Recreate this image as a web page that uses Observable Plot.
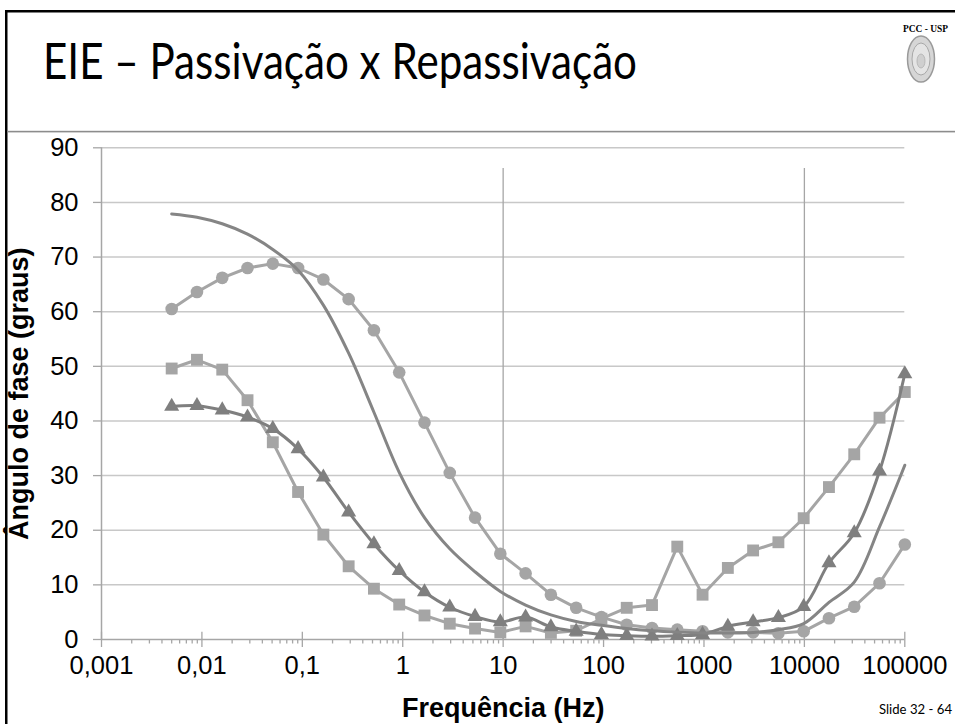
<!DOCTYPE html>
<html><head><meta charset="utf-8">
<script src="https://cdn.jsdelivr.net/npm/d3@7"></script>
<script src="https://cdn.jsdelivr.net/npm/@observablehq/plot@0.6"></script>
<style>
html,body{margin:0;padding:0;background:#fff;}
#page{position:relative;width:955px;height:724px;overflow:hidden;background:#fff;}
#chart{position:absolute;left:0;top:132px;}
#deco{position:absolute;left:0;top:0;}
</style></head><body>
<div id="page">
<div id="chart"></div>
<svg id="deco" width="955" height="724">
  <rect x="5" y="10" width="950" height="2.5" fill="#000"/>
  <rect x="5" y="10" width="2.5" height="714" fill="#000"/>
  <rect x="7" y="130.8" width="948" height="1.6" fill="#8c8c8c"/>
  <text x="43" y="79" font-family="Lato, 'DejaVu Sans', sans-serif" font-weight="400" font-size="50" textLength="594" lengthAdjust="spacingAndGlyphs" fill="#000">EIE – Passivação x Repassivação</text>
  <text x="903" y="32" font-family="'Liberation Serif', serif" font-weight="bold" font-size="10.5" textLength="45" lengthAdjust="spacingAndGlyphs" fill="#000">PCC - USP</text>
  <ellipse cx="921" cy="59" rx="13.5" ry="23" fill="#d6d6d6" stroke="#9a9a9a" stroke-width="1.5"/>
  <ellipse cx="921" cy="59" rx="9" ry="16" fill="#e4e4e4" stroke="#a8a8a8" stroke-width="1"/>
  <ellipse cx="921" cy="61" rx="4" ry="7" fill="#cfcfcf" stroke="#b0b0b0" stroke-width="0.8"/>
  <text x="879" y="714" font-family="Lato, 'DejaVu Sans', sans-serif" font-size="13.5" textLength="73" lengthAdjust="spacingAndGlyphs" fill="#000">Slide 32 - 64</text>
</svg>
</div>
<script>
// Frequencies (Hz), low to high
const freq = [0.005, 0.008928, 0.01594, 0.02846, 0.05082, 0.09073, 0.1620, 0.2893, 0.5165, 0.9222,
  1.647, 2.940, 5.249, 9.373, 16.73, 29.88, 53.35, 95.26, 170.1, 303.7,
  542.2, 968.0, 1729, 3086, 5511, 9839, 17568, 31368, 56001, 100000];
// Series: phase angle (degrees)
const circleSeries = [60.5, 63.6, 66.2, 68.0, 68.8, 68.0, 65.9, 62.3, 56.6, 48.9,
  39.7, 30.5, 22.3, 15.7, 12.1, 8.2, 5.8, 4.1, 2.7, 2.1,
  1.8, 1.5, 1.3, 1.3, 1.15, 1.5, 3.9, 6.0, 10.3, 17.4];
const squareSeries = [49.6, 51.2, 49.4, 43.8, 36.1, 27.0, 19.2, 13.4, 9.3, 6.4,
  4.4, 2.9, 2.0, 1.3, 2.4, 1.2, 1.6, 3.8, 5.8, 6.3,
  17.0, 8.2, 13.1, 16.3, 17.8, 22.2, 27.9, 33.9, 40.6, 45.3];
const triangleSeries = [42.65, 42.8, 42.0, 40.7, 38.6, 34.9, 29.7, 23.3, 17.5, 12.6,
  8.7, 5.9, 4.2, 3.2, 4.1, 2.3, 1.5, 0.9, 0.7, 0.6,
  0.7, 0.9, 2.4, 3.2, 4.0, 6.0, 14.0, 19.5, 30.8, 48.6];
const lineSeries = [77.9, 77.3, 76.1, 74.2, 71.4, 67.6, 61.2, 52.4, 41.6, 30.6,
  22.3, 16.6, 12.4, 8.8, 6.3, 4.5, 3.3, 2.6, 2.0, 1.6,
  1.35, 1.2, 1.2, 1.3, 1.8, 2.9, 6.8, 10.5, 20.6, 31.9];

const yTicks = [0, 10, 20, 30, 40, 50, 60, 70, 80, 90];
const yTickLabels = ["0", "10", "20", "30", "40", "50", "60", "70", "80", "90"];
const xTicks = [0.001, 0.01, 0.1, 1, 10, 100, 1000, 10000, 100000];
const xTickLabels = ["0,001", "0,01", "0,1", "1", "10", "100", "1000", "10000", "100000"];
const xGridLines = [10, 10000];
const xLabel = "Frequência (Hz)";
const yLabel = "Ângulo de fase (graus)";

const minorTicks = [];
for (let d = -3; d < 5; d++) for (let m = 2; m <= 9; m++) minorTicks.push(m * Math.pow(10, d));

const mk = (vals) => freq.map((f, i) => ({f, v: vals[i]}));
const circles = mk(circleSeries), squares = mk(squareSeries), triangles = mk(triangleSeries), plain = mk(lineSeries);

const light = "#a5a5a5", dark = "#7f7f7f", axisC = "#a6a6a6", gridC = "#c8c8c8";

const chart = Plot.plot({
  width: 955, height: 592,
  marginLeft: 101, marginRight: 50.7, marginTop: 15.3, marginBottom: 85,
  x: {type: "log", domain: [0.001, 100000], axis: null},
  y: {domain: [0, 90], axis: null},
  style: {fontFamily: "'Liberation Sans', Arial, sans-serif", fontSize: "25.5px", color: "#000", background: "transparent"},
  marks: [
    Plot.ruleY(yTicks.slice(1), {stroke: gridC, strokeWidth: 1.5}),
    Plot.ruleX(xGridLines, {y1: 86.2, y2: 0, stroke: axisC, strokeWidth: 1.3}),
    Plot.ruleX(minorTicks, {y1: 0, y2: 0, insetTop: 0, insetBottom: -4.5, stroke: axisC, strokeWidth: 1.3}),
    Plot.ruleX(xTicks, {y1: 0, y2: 0, insetTop: -7.3, insetBottom: -8, stroke: axisC, strokeWidth: 1.3}),
    Plot.ruleY(yTicks, {x1: 0.001, x2: 0.001, insetLeft: -8, insetRight: 0, stroke: axisC, strokeWidth: 1.3}),
    Plot.ruleY([0], {stroke: axisC, strokeWidth: 1.5}),
    Plot.ruleX([0.001], {stroke: axisC, strokeWidth: 1.5}),
    Plot.text(yTicks, {y: (d) => d, frameAnchor: "left", dx: -23, textAnchor: "end", lineAnchor: "middle", text: (d, i) => yTickLabels[i], fill: "#000"}),
    Plot.text(xTicks, {x: (d) => d, frameAnchor: "bottom", dy: 26, textAnchor: "middle", lineAnchor: "middle", text: (d, i) => xTickLabels[i], fill: "#000"}),
    Plot.line(circles, {x: "f", y: "v", stroke: light, strokeWidth: 3}),
    Plot.dot(circles, {x: "f", y: "v", symbol: "circle", r: 6.3, fill: light}),
    Plot.line(squares, {x: "f", y: "v", stroke: light, strokeWidth: 3}),
    Plot.dot(squares, {x: "f", y: "v", symbol: "square", r: 6.7, fill: light}),
    Plot.line(triangles, {x: "f", y: "v", stroke: dark, strokeWidth: 3, curve: "catmull-rom"}),
    Plot.dot(triangles, {x: "f", y: "v", symbol: "triangle", r: 5.6, fill: dark}),
    Plot.line(plain, {x: "f", y: "v", stroke: "#858585", strokeWidth: 3, curve: "catmull-rom"}),
    Plot.text([yLabel], {frameAnchor: "left", dx: -82, rotate: -90, textAnchor: "middle", lineAnchor: "middle", fontSize: 27, fontWeight: "bold", fill: "#000"}),
    Plot.text([xLabel], {frameAnchor: "bottom", dy: 69, textAnchor: "middle", lineAnchor: "middle", fontSize: 27, fontWeight: "bold", fill: "#000"})
  ]
});
document.getElementById("chart").appendChild(chart);
</script>
</body></html>
